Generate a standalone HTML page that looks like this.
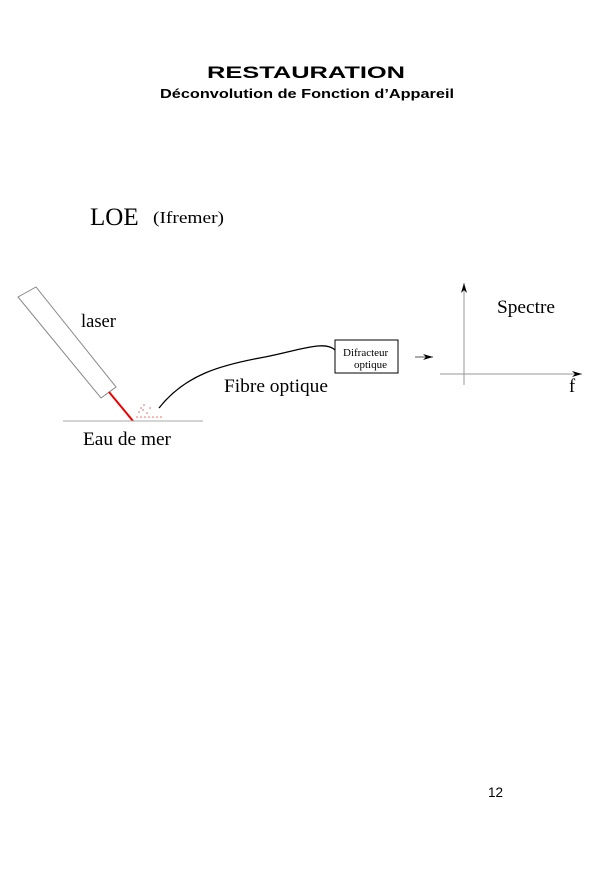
<!DOCTYPE html>
<html><head><meta charset="utf-8"><style>
html,body{margin:0;padding:0;background:#fff;}
svg{display:block;}
</style></head><body>
<svg width="600" height="875" viewBox="0 0 600 875" xmlns="http://www.w3.org/2000/svg">
<defs><marker id="ah" markerWidth="10" markerHeight="6" refX="10" refY="3" orient="auto" markerUnits="userSpaceOnUse"><path d="M0,0 L10,3 L0,6 L3,3 z" fill="#000"/></marker></defs>
<text x="306" y="78" text-anchor="middle" font-family="Liberation Sans, sans-serif" font-weight="bold" font-size="17" textLength="198" lengthAdjust="spacingAndGlyphs">RESTAURATION</text>
<text x="307" y="98" text-anchor="middle" font-family="Liberation Sans, sans-serif" font-weight="bold" font-size="12.5" textLength="294" lengthAdjust="spacingAndGlyphs">Déconvolution de Fonction d’Appareil</text>
<text x="90" y="225" font-family="Liberation Serif, serif" font-size="25">LOE</text>
<text x="153" y="223" font-family="Liberation Serif, serif" font-size="17" textLength="71" lengthAdjust="spacingAndGlyphs">(Ifremer)</text>
<polygon points="18,297 36,287 116,387 101,398" fill="none" stroke="#888" stroke-width="1"/>
<line x1="109" y1="392" x2="133" y2="421" stroke="#e00" stroke-width="2"/>
<line x1="63" y1="421" x2="203" y2="421" stroke="#aaa" stroke-width="1"/>
<g fill="#e66">
<circle cx="137" cy="417" r="0.8"/><circle cx="141" cy="417" r="0.8"/><circle cx="145" cy="417" r="0.8"/><circle cx="149" cy="417" r="0.8"/><circle cx="153" cy="417" r="0.8"/><circle cx="157" cy="417" r="0.8"/><circle cx="161" cy="417" r="0.8"/>
<circle cx="139" cy="412" r="0.8"/><circle cx="143" cy="410" r="0.8"/><circle cx="147" cy="413" r="0.8"/><circle cx="144" cy="405" r="0.8"/><circle cx="150" cy="408" r="0.8"/><circle cx="141" cy="408" r="0.8"/>
</g>
<path d="M159,408 C185,375 220,365 265,357 C300,350 325,340 335,350" fill="none" stroke="#000" stroke-width="1.3"/>
<text x="81" y="327" font-family="Liberation Serif, serif" font-size="18.5">laser</text>
<text x="83" y="445" font-family="Liberation Serif, serif" font-size="18.5" textLength="88" lengthAdjust="spacingAndGlyphs">Eau de mer</text>
<text x="224" y="392" font-family="Liberation Serif, serif" font-size="18.5" textLength="104" lengthAdjust="spacingAndGlyphs">Fibre optique</text>
<rect x="335" y="340" width="63" height="33" fill="#fff" stroke="#000" stroke-width="1"/>
<text x="343" y="356" font-family="Liberation Serif, serif" font-size="11">Difracteur</text>
<text x="354" y="368" font-family="Liberation Serif, serif" font-size="11">optique</text>
<line x1="415" y1="357" x2="433" y2="357" stroke="#555" stroke-width="1" marker-end="url(#ah)"/>
<line x1="464" y1="385" x2="464" y2="283" stroke="#999" stroke-width="1" marker-end="url(#ah)"/>
<line x1="440" y1="374" x2="582" y2="374" stroke="#999" stroke-width="1" marker-end="url(#ah)"/>
<text x="497" y="313" font-family="Liberation Serif, serif" font-size="18.5" textLength="58" lengthAdjust="spacingAndGlyphs">Spectre</text>
<text x="569" y="392" font-family="Liberation Serif, serif" font-size="18.5">f</text>
<text x="488" y="797" font-family="Liberation Sans, sans-serif" font-size="13.5">12</text>
</svg>
</body></html>
